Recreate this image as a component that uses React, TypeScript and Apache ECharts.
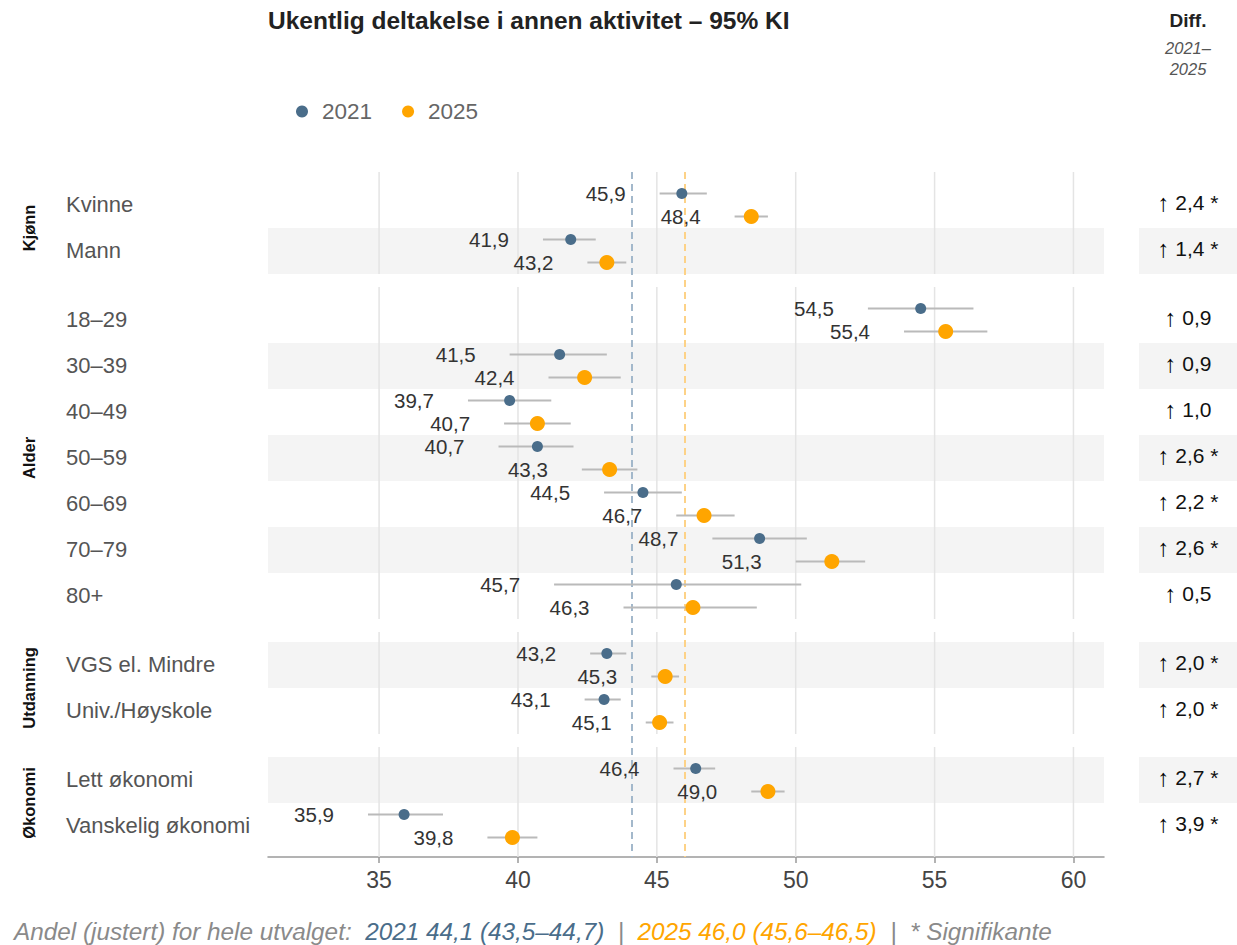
import React, { useEffect, useRef } from "react";
import * as echarts from "echarts";

const FONT = "'Liberation Sans', Arial, Helvetica, sans-serif";

const groups = ["Kjønn", "Alder", "Utdanning", "Økonomi"];
const categories = [
  "Kvinne", "Mann", "18–29", "30–39", "40–49", "50–59", "60–69", "70–79", "80+",
  "VGS el. Mindre", "Univ./Høyskole", "Lett økonomi", "Vanskelig økonomi",
];
const groupOf = [0, 0, 1, 1, 1, 1, 1, 1, 1, 2, 2, 3, 3];

const v2021 = [45.9, 41.9, 54.5, 41.5, 39.7, 40.7, 44.5, 48.7, 45.7, 43.2, 43.1, 46.4, 35.9];
const lo2021 = [45.1, 40.9, 52.6, 39.7, 38.2, 39.3, 43.1, 47.0, 41.3, 42.6, 42.4, 45.6, 34.6];
const hi2021 = [46.8, 42.8, 56.4, 43.2, 41.2, 42.0, 45.9, 50.4, 50.2, 43.9, 43.7, 47.1, 37.3];

const v2025 = [48.4, 43.2, 55.4, 42.4, 40.7, 43.3, 46.7, 51.3, 46.3, 45.3, 45.1, 49.0, 39.8];
const lo2025 = [47.8, 42.5, 53.9, 41.1, 39.5, 42.3, 45.7, 50.0, 43.8, 44.8, 44.6, 48.4, 38.9];
const hi2025 = [49.0, 43.9, 56.9, 43.7, 41.9, 44.3, 47.8, 52.5, 48.6, 45.8, 45.6, 49.6, 40.7];

const diffs = [2.4, 1.4, 0.9, 0.9, 1.0, 2.6, 2.2, 2.6, 0.5, 2.0, 2.0, 2.7, 3.9];
const significant = [true, true, false, false, false, true, true, true, false, true, true, true, true];

const xTicks = [35, 40, 45, 50, 55, 60];
const overall2021 = 44.1;
const overall2021CI = [43.5, 44.7];
const overall2025 = 46.0;
const overall2025CI = [45.6, 46.5];

const C2021 = "#4a6d8a";
const C2025 = "#ffa500";

const X_MIN = 31;
const X_MAX = 61.1;
const Y_MIN = -0.217;
const Y_MAX = 14.674;

const fmt = (v: number) => v.toFixed(1).replace(".", ",");

// row position: index + half-row gap per group
const rowPos = categories.map((_, i) => i + 0.5 * groupOf[i]);

export default function App() {
  const ref = useRef<HTMLDivElement>(null);

  useEffect(() => {
    document.body.style.margin = "0";
    if (!ref.current) return;
    const chart = echarts.init(ref.current, null, { renderer: "svg" });

    const groupRanges = groups.map((g, gi) => {
      const idx = categories.map((_, i) => i).filter((i) => groupOf[i] === gi);
      const start = rowPos[idx[0]];
      const end = rowPos[idx[idx.length - 1]] + 1;
      return [start, end, gi];
    });

    const pointSeries = (
      name: string,
      vals: number[],
      los: number[],
      his: number[],
      offset: number,
      color: string,
      r: number
    ) => ({
      type: "custom",
      name,
      z: 10,
      clip: false,
      itemStyle: { color },
      data: vals.map((v, i) => [v, rowPos[i] + offset, los[i], his[i]]),
      renderItem: (params: any, api: any) => {
        const v = api.value(0);
        const y = api.value(1);
        const p = api.coord([v, y]);
        const pl = api.coord([api.value(2), y]);
        const ph = api.coord([api.value(3), y]);
        return {
          type: "group",
          children: [
            {
              type: "line",
              shape: { x1: pl[0], y1: pl[1], x2: ph[0], y2: ph[1] },
              style: { stroke: "#bababa", lineWidth: 2 },
            },
            {
              type: "circle",
              shape: { cx: p[0], cy: p[1], r },
              style: { fill: color },
            },
            {
              type: "text",
              x: pl[0] - 34,
              y: p[1],
              style: {
                text: fmt(v),
                align: "right",
                verticalAlign: "middle",
                fontSize: 20.5,
                fontFamily: FONT,
                fill: "#333",
              },
            },
          ],
        };
      },
    });

    const option: any = {
      animation: false,
      textStyle: { fontFamily: FONT },
      grid: { left: 268, right: 133, top: 172, bottom: 88 },
      xAxis: {
        type: "value",
        position: "bottom",
        min: X_MIN,
        max: X_MAX,
        axisLine: { show: true, onZero: false, lineStyle: { color: "#9a9a9a", width: 1.5 } },
        axisTick: {
          show: true,
          customValues: xTicks,
          length: 6,
          lineStyle: { color: "#9a9a9a", width: 1.5 },
        },
        axisLabel: {
          customValues: xTicks,
          fontSize: 23,
          color: "#444",
          margin: 11,
          fontFamily: FONT,
        },
        splitLine: { show: false },
      },
      yAxis: {
        type: "value",
        inverse: true,
        min: Y_MIN,
        max: Y_MAX,
        show: false,
        splitLine: { show: false },
      },
      legend: {
        left: 296,
        top: 100,
        itemWidth: 12,
        itemHeight: 12,
        itemGap: 30,
        padding: 0,
        textStyle: { fontSize: 22.5, color: "#666", fontFamily: FONT, padding: [0, 0, 0, 9] },
        data: [
          { name: "2021", icon: "circle" },
          { name: "2025", icon: "circle" },
        ],
      },
      graphic: [
        {
          type: "text",
          left: 268,
          top: 8,
          style: {
            text: "Ukentlig deltakelse i annen aktivitet – 95% KI",
            fontSize: 24.5,
            fontWeight: "bold",
            fontFamily: FONT,
            fill: "#222",
          },
        },
        {
          type: "text",
          x: 1188,
          y: 20,
          style: {
            text: "Diff.",
            align: "center",
            verticalAlign: "middle",
            fontSize: 19,
            fontWeight: "bold",
            fontFamily: FONT,
            fill: "#222",
          },
        },
        {
          type: "text",
          x: 1188,
          y: 58,
          style: {
            text: "2021–\n2025",
            align: "center",
            verticalAlign: "middle",
            fontSize: 16.5,
            lineHeight: 21,
            fontStyle: "italic",
            fontFamily: FONT,
            fill: "#555",
          },
        },
        {
          type: "text",
          x: 14,
          y: 931,
          style: {
            text:
              "{g|Andel (justert) for hele utvalget:  }" +
              `{b|2021 ${fmt(overall2021)} (${fmt(overall2021CI[0])}–${fmt(overall2021CI[1])})}` +
              "{g|  |  }" +
              `{o|2025 ${fmt(overall2025)} (${fmt(overall2025CI[0])}–${fmt(overall2025CI[1])})}` +
              "{g|  |  * Signifikante}",
            verticalAlign: "middle",
            rich: {
              g: { fontSize: 24.3, fontStyle: "italic", fill: "#8a8a8a", fontFamily: FONT },
              b: { fontSize: 24.3, fontStyle: "italic", fill: C2021, fontFamily: FONT },
              o: { fontSize: 24.3, fontStyle: "italic", fill: C2025, fontFamily: FONT },
            },
          },
        },
      ],
      series: [
        // stripes
        {
          type: "custom",
          name: "stripes",
          z: 1,
          silent: true,
          clip: false,
          data: rowPos.map((p, i) => [i, p]).filter((d) => d[0] % 2 === 1),
          renderItem: (params: any, api: any) => {
            const p = api.value(1);
            const a = api.coord([X_MIN, p]);
            const b = api.coord([X_MAX, p + 1]);
            return {
              type: "group",
              children: [
                {
                  type: "rect",
                  shape: { x: a[0], y: a[1], width: b[0] - a[0], height: b[1] - a[1] },
                  style: { fill: "#f4f4f4" },
                },
                {
                  type: "rect",
                  shape: { x: 1139, y: a[1], width: 98, height: b[1] - a[1] },
                  style: { fill: "#f4f4f4" },
                },
              ],
            };
          },
        },
        // per-panel gridlines
        {
          type: "custom",
          name: "grid",
          z: 2,
          silent: true,
          clip: false,
          data: groupRanges,
          renderItem: (params: any, api: any) => {
            const s = api.value(0);
            const e = api.value(1);
            const gi = api.value(2);
            const top = s + Y_MIN;
            const bottom = gi === groups.length - 1 ? Y_MAX : e;
            return {
              type: "group",
              children: xTicks.map((t) => {
                const a = api.coord([t, top]);
                const b = api.coord([t, bottom]);
                return {
                  type: "line",
                  shape: { x1: a[0], y1: a[1], x2: b[0], y2: b[1] },
                  style: { stroke: "#e4e4e4", lineWidth: 1.5 },
                };
              }),
            };
          },
          markLine: {
            silent: true,
            symbol: "none",
            label: { show: false },
            data: [
              { xAxis: overall2021, lineStyle: { color: "#a3b8cb", type: [7, 5], width: 2 } },
              { xAxis: overall2025, lineStyle: { color: "#fdd287", type: [7, 5], width: 2 } },
            ],
          },
        },
        pointSeries("2021", v2021, lo2021, hi2021, 0.25, C2021, 5.5),
        pointSeries("2025", v2025, lo2025, hi2025, 0.75, C2025, 7.5),
        // category labels + diff column
        {
          type: "custom",
          name: "labels",
          z: 10,
          silent: true,
          clip: false,
          data: rowPos.map((p, i) => [i, p + 0.5]),
          renderItem: (params: any, api: any) => {
            const i = api.value(0);
            const y = api.coord([X_MIN, api.value(1)])[1];
            return {
              type: "group",
              children: [
                {
                  type: "text",
                  x: 66,
                  y,
                  style: {
                    text: categories[i],
                    align: "left",
                    verticalAlign: "middle",
                    fontSize: 22,
                    fontFamily: FONT,
                    fill: "#555",
                  },
                },
                {
                  type: "text",
                  x: 1188,
                  y: y - 2,
                  style: {
                    text: "{a|↑}{t| " + fmt(diffs[i]) + (significant[i] ? " *" : "") + "}",
                    align: "center",
                    verticalAlign: "middle",
                    rich: {
                      a: { fontSize: 24, fontFamily: FONT, fill: "#000" },
                      t: { fontSize: 21, fontFamily: FONT, fill: "#111" },
                    },
                  },
                },
              ],
            };
          },
        },
        // group labels
        {
          type: "custom",
          name: "groups",
          z: 10,
          silent: true,
          clip: false,
          data: groupRanges,
          renderItem: (params: any, api: any) => {
            const mid = (api.value(0) + api.value(1)) / 2;
            const y = api.coord([X_MIN, mid])[1];
            return {
              type: "text",
              x: 29,
              y,
              rotation: Math.PI / 2,
              style: {
                text: groups[api.value(2)],
                align: "center",
                verticalAlign: "middle",
                fontSize: 16.5,
                fontWeight: "bold",
                fontFamily: FONT,
                fill: "#111",
              },
            };
          },
        },
      ],
    };

    chart.setOption(option);
    return () => chart.dispose();
  }, []);

  return <div ref={ref} style={{ width: 1237, height: 945 }} />;
}
